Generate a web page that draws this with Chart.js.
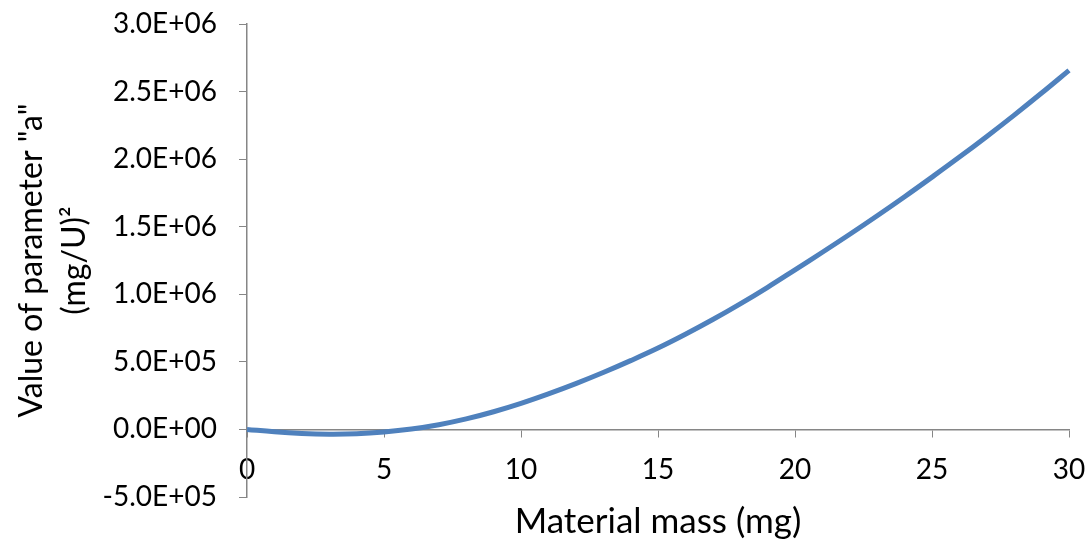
<!DOCTYPE html>
<html>
<head>
<meta charset="utf-8">
<script src="https://cdn.jsdelivr.net/npm/chart.js@4/dist/chart.umd.min.js"></script>
<style>
  html, body { margin: 0; padding: 0; background: #fff; }
  #wrap { width: 1089px; height: 544px; }
</style>
</head>
<body>
<div id="wrap"><canvas id="c" width="1089" height="544"></canvas></div>
<script>
// Data
const massMg = [0,1,2,3,4,5,6,7,8,9,10,11,12,13,14,15,16,17,18,19,20,21,22,23,24,25,26,27,28,29,30];
const paramA = [0,-18000,-30000,-35000,-32000,-19000,3000,35000,78000,131000,193000,263000,339000,421000,509000,602000,
                704000,813000,929000,1052000,1181000,1311000,1444000,1581000,1722000,1867000,2015000,2168000,2326000,2489000,2657000];
const xTicks = { min: 0, max: 30, step: 5 };
const yTicks = { min: -500000, max: 3000000, step: 500000 };
const xTitle = "Material mass (mg)";
const yTitle = ['Value of parameter "a"', '(mg/U)\u00B2'];

const FONT = "Lato, 'Open Sans', 'DejaVu Sans', sans-serif";
const AXIS = '#868686';

function sci(v) {
  const s = Number(v).toExponential(1);
  const m = s.split('e');
  let exp = parseInt(m[1], 10);
  const sign = exp < 0 ? '-' : '+';
  exp = Math.abs(exp);
  return m[0] + 'E' + sign + (exp < 10 ? '0' + exp : '' + exp);
}

const points = massMg.map((x, i) => ({ x: x, y: paramA[i] }));

new Chart(document.getElementById('c'), {
  type: 'scatter',
  data: {
    datasets: [{
      data: points,
      showLine: true,
      borderColor: '#4F81BD',
      backgroundColor: '#4F81BD',
      borderWidth: 5,
      pointRadius: 0,
      pointHoverRadius: 0,
      tension: 0.4,
      clip: false
    }]
  },
  options: {
    responsive: false,
    animation: false,
    events: [],
    layout: { padding: { left: 0, top: 24, right: 20, bottom: 47 } },
    plugins: { legend: { display: false }, tooltip: { enabled: false } },
    scales: {
      x: {
        type: 'linear',
        position: { y: 0 },
        min: xTicks.min, max: xTicks.max,
        afterFit: (s) => { s.paddingLeft = 0; s.paddingRight = 0; },
        grid: { drawOnChartArea: false, drawTicks: true, tickLength: 7, color: AXIS, lineWidth: 1 },
        border: { display: true, color: AXIS, width: 1.5 },
        ticks: {
          stepSize: xTicks.step,
          padding: 17,
          color: '#000',
          font: { family: FONT, size: 28 },
          maxRotation: 0,
          autoSkip: false
        },
        title: {
          display: true,
          text: xTitle,
          color: '#000',
          font: { family: FONT, size: 35 },
          padding: { top: -3, bottom: 0 }
        }
      },
      y: {
        type: 'linear',
        position: 'left',
        min: yTicks.min, max: yTicks.max,
        afterFit: (s) => { s.width = 247; s.paddingTop = 0; s.paddingBottom = 0; },
        grid: { drawOnChartArea: false, drawTicks: true, tickLength: 8, color: AXIS, lineWidth: 1 },
        border: { display: true, color: AXIS, width: 1.5 },
        ticks: {
          stepSize: yTicks.step,
          padding: 22,
          color: '#000',
          font: { family: FONT, size: 28 },
          callback: (v) => sci(v)
        },
        title: {
          display: true,
          text: yTitle,
          color: '#000',
          font: { family: FONT, size: 32, lineHeight: 1.35 },
          padding: { top: 10, bottom: 0 }
        }
      }
    }
  }
});
</script>
</body>
</html>
